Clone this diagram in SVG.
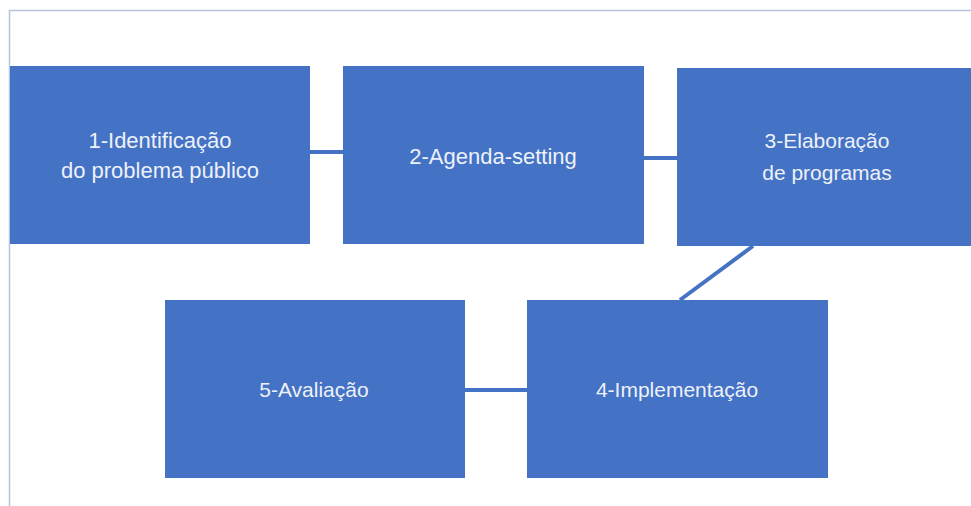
<svg xmlns="http://www.w3.org/2000/svg" width="971" height="506" viewBox="0 0 971 506">
<style>
.box{fill:#4472c4;}
.lbl{font-family:"Liberation Sans",Arial,sans-serif;font-size:21px;fill:#edf1f9;text-anchor:middle;}
.big{font-size:22px;}
.con{stroke:#4472c4;stroke-width:4;fill:none;}
.frame{stroke:#b8c5de;stroke-width:1.5;fill:none;}
</style>
<rect width="971" height="506" fill="#ffffff"/>
<path class="frame" d="M9.5,506 V10.5 H971"/>
<g id="connectors">
<line class="con" x1="310" y1="152" x2="343" y2="152"/>
<line class="con" x1="644" y1="158" x2="677" y2="158"/>
<line class="con" x1="753" y1="246" x2="680" y2="300"/>
<line class="con" x1="465" y1="390" x2="527" y2="390"/>
</g>
<g id="node1">
<rect class="box" x="10" y="66" width="300" height="178"/>
<text class="lbl big" x="160" y="148">1-Identificação</text>
<text class="lbl big" x="160" y="178">do problema público</text>
</g>
<g id="node2">
<rect class="box" x="343" y="66" width="301" height="178"/>
<text class="lbl big" x="493" y="164">2-Agenda-setting</text>
</g>
<g id="node3">
<rect class="box" x="677" y="68" width="294" height="178"/>
<text class="lbl" x="827" y="148">3-Elaboração</text>
<text class="lbl" x="827" y="180">de programas</text>
</g>
<g id="node4">
<rect class="box" x="527" y="300" width="301" height="178"/>
<text class="lbl" x="677" y="397">4-Implementação</text>
</g>
<g id="node5">
<rect class="box" x="165" y="300" width="300" height="178"/>
<text class="lbl" x="314" y="397">5-Avaliação</text>
</g>
</svg>
